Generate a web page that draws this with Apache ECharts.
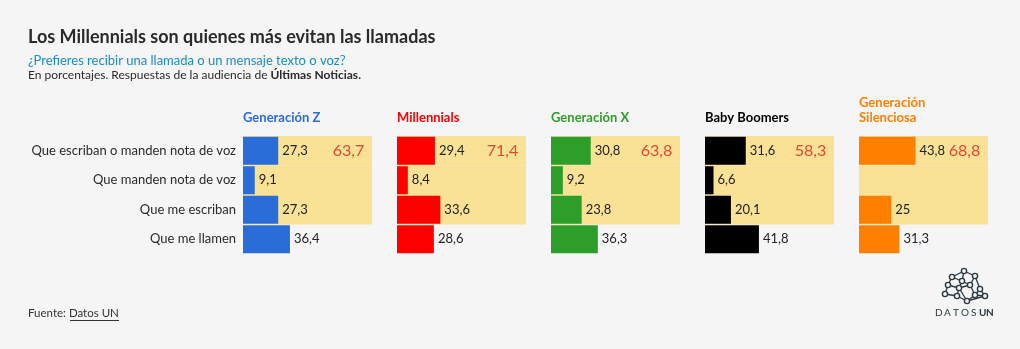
<!DOCTYPE html>
<html><head><meta charset="utf-8">
<script src="https://cdn.jsdelivr.net/npm/echarts@6/dist/echarts.min.js"></script>
<style>html,body{margin:0;padding:0;background:#f5f5f5}#c{width:1020px;height:349px}</style>
</head><body><div id="c"></div>
<script>
const categories = ['Que escriban o manden nota de voz','Que manden nota de voz','Que me escriban','Que me llamen'];
const generations = ['Generación Z','Millennials','Generación X','Baby Boomers','Generación\nSilenciosa'];
const genZ = [27.3, 9.1, 27.3, 36.4];
const millennials = [29.4, 8.4, 33.6, 28.6];
const genX = [30.8, 9.2, 23.8, 36.3];
const boomers = [31.6, 6.6, 20.1, 41.8];
const silent = [43.8, null, 25, 31.3];
const totals = [63.7, 71.4, 63.8, 58.3, 68.8];
const highlightRows = [true, true, true, false];

const seriesData = [genZ, millennials, genX, boomers, silent];
const colors = ['#2a6dd9', '#ff0000', '#2e9e2a', '#000000', '#ff8000'];
const FONT = 'Lato';
const fmt = v => String(v).replace('.', ',');
const XMAX = 100;

const grids = [], xAxes = [], yAxes = [], series = [];
seriesData.forEach((vals, i) => {
  grids.push({left: 243 + i * 154, width: 129, top: 136, height: 118});
  xAxes.push({type: 'value', gridIndex: i, min: 0, max: XMAX, show: false});
  yAxes.push({type: 'category', gridIndex: i, inverse: true, data: categories,
    axisLine: {show: false}, axisTick: {show: false}, splitLine: {show: false},
    axisLabel: {show: i === 0, fontFamily: FONT, fontSize: 13, color: '#2a2a2a', margin: 7}});
  yAxes.push({type: 'category', gridIndex: i, inverse: true, data: categories, show: false});
  series.push({type: 'bar', xAxisIndex: i, yAxisIndex: 2 * i + 1, barWidth: '100%', silent: true, z: 1,
    data: highlightRows.map(h => h ? XMAX : null), itemStyle: {color: '#f9e196'}});
  series.push({type: 'bar', xAxisIndex: i, yAxisIndex: 2 * i, barCategoryGap: '5%', z: 2,
    data: vals, itemStyle: {color: colors[i]},
    label: {show: true, position: 'right', distance: 4, fontFamily: FONT, fontSize: 13, color: '#222',
      formatter: p => p.value == null ? '' : fmt(p.value)}});
  series.push({type: 'scatter', xAxisIndex: i, yAxisIndex: 2 * i, symbolSize: 0, z: 3, silent: true,
    data: [[94, categories[0], totals[i]]],
    label: {show: true, position: 'left', distance: 0, fontFamily: FONT, fontSize: 16, color: '#e0201a',
      formatter: p => fmt(p.value[2])}});
});

const titles = [
  {text: 'Los Millennials son quienes más evitan las llamadas', left: 28, top: 28, padding: 0,
   textStyle: {fontFamily: FONT, fontSize: 18, fontWeight: 'bold', color: '#2a2a2a'}},
  {text: '¿Prefieres recibir una llamada o un mensaje texto o voz?', left: 28, top: 54, padding: 0,
   textStyle: {fontFamily: FONT, fontSize: 13, fontWeight: 'normal', color: '#1a8cc7'}},
  {text: 'En porcentajes. Respuestas de la audiencia de {b|Últimas Noticias.}', left: 28, top: 69, padding: 0,
   textStyle: {fontFamily: FONT, fontSize: 12, fontWeight: 'normal', color: '#2a2a2a',
     rich: {b: {fontFamily: FONT, fontSize: 12, fontWeight: 'bold', color: '#2a2a2a'}}}},
  {text: 'Fuente: Datos UN', left: 28, top: 307, padding: 0,
   textStyle: {fontFamily: FONT, fontSize: 11.5, fontWeight: 'normal', color: '#333'}}
];
generations.forEach((g, i) => {
  titles.push({text: g, left: 243 + i * 154, bottom: 349 - 125, padding: 0,
    textStyle: {fontFamily: FONT, fontSize: 13, fontWeight: 'bold', color: colors[i], lineHeight: 15}});
});

// logo
const nodes = [[964,271],[952,277],[975,276],[948,285],[959,288],[970,285],[980,289],[945,294],[957,296],[967,301],[975,295],[985,296],[962,281]];
const edges = [[0,1],[0,2],[0,12],[1,3],[1,12],[2,5],[2,6],[3,4],[3,7],[4,12],[4,5],[4,8],[5,10],[6,10],[6,11],[7,8],[8,9],[9,10],[10,11],[9,11],[5,12],[4,9]];
const graphics = [];
edges.forEach(e => graphics.push({type: 'line', shape: {x1: nodes[e[0]][0], y1: nodes[e[0]][1], x2: nodes[e[1]][0], y2: nodes[e[1]][1]},
  style: {stroke: '#2b3a42', lineWidth: 1.3}}));
nodes.forEach(n => graphics.push({type: 'circle', shape: {cx: n[0], cy: n[1], r: 2.6},
  style: {fill: '#f5f5f5', stroke: '#2b3a42', lineWidth: 1.4}}));
const logoLetters = [['D',935,false],['A',944,false],['T',953,false],['O',961,false],['S',971,false],['U',979,true],['N',986,true]];
logoLetters.forEach(l => graphics.push({type: 'text', left: l[1], top: 308,
  style: {text: l[0], fontFamily: FONT, fontSize: 10, fontWeight: l[2] ? 'bold' : 'normal', fill: '#2b3a42'}}));
graphics.push({type: 'rect', shape: {x: 70, y: 320, width: 49, height: 1}, style: {fill: '#333'}});

const chart = echarts.init(document.getElementById('c'));
chart.setOption({
  backgroundColor: '#f5f5f5',
  animation: false,
  title: titles,
  grid: grids, xAxis: xAxes, yAxis: yAxes, series: series,
  graphic: graphics
});
</script></body></html>
